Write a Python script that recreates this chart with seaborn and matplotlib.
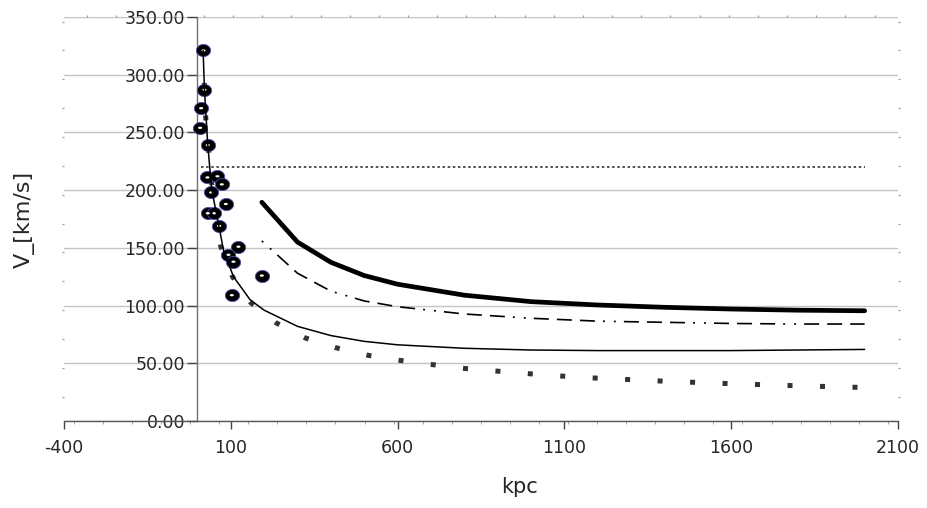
import numpy as np
import pandas as pd
import seaborn as sns
import matplotlib.pyplot as plt
from matplotlib.ticker import MultipleLocator, FormatStrFormatter

# observed points (kpc, km/s)
obs_r = [18, 21, 11, 8, 31, 30, 60, 73, 41, 85, 31, 51, 65, 123, 93, 108, 193, 103]
obs_v = [321, 287, 271, 254, 239, 211, 212, 205, 198, 188, 180, 180, 169, 151, 144, 138, 126, 109]

# thin solid fit
fit_r = [17, 21, 31, 43, 65, 78, 108, 158, 200, 300, 400, 500, 600, 800, 1000, 1200, 1400, 1600, 1800, 2000]
fit_v = [321, 287, 239, 200, 168, 148, 125, 105, 96, 82, 74, 69, 66, 63, 61.5, 61, 61, 61, 61.5, 62]

# square-dotted curve
kep_r = [17, 25, 50, 70, 105, 160, 236, 323, 415, 509, 605, 700, 798, 894, 992, 1088, 1185, 1400, 1600, 1800, 2000]
kep_v = [321, 262, 183, 151, 125, 102.5, 85, 72, 63.5, 57, 52.6, 49, 45.6, 43.3, 41, 39, 37.3, 34.5, 32.3, 30.5, 29]

# thick solid and dash-dot curves
far_r = [193, 300, 400, 500, 600, 800, 1000, 1200, 1400, 1600, 1800, 2000]
thick_v = [189.5, 155, 137.5, 126, 118.5, 109, 103.4, 100.5, 98.5, 97, 96, 95.5]
dashdot_v = [156, 128, 112.5, 104, 99, 92.7, 89, 86.5, 85.5, 84.5, 84, 84]

# flat dotted line
flat_r = [10, 2000]
flat_v = [220, 220]

xticks = [-400, 100, 600, 1100, 1600, 2100]
yticks = [0, 50, 100, 150, 200, 250, 300, 350]

sns.set_style("white")
plt.rcParams['font.family'] = ['DejaVu Sans']
plt.rcParams['axes.unicode_minus'] = False
plt.rcParams['lines.scale_dashes'] = False

fig = plt.figure(figsize=(9.27, 5.08), dpi=100)
rect = [64 / 927, 1 - 421 / 508, 834 / 927, 404 / 508]
ax = fig.add_axes(rect)

obs = pd.DataFrame({'r': obs_r, 'v': obs_v})

sns.lineplot(x=flat_r, y=flat_v, ax=ax, color='#222222', lw=1.1,
             linestyle=(0, (1.8, 1.9)), estimator=None, legend=False, zorder=2)
sns.lineplot(x=kep_r, y=kep_v, ax=ax, color='#333333', lw=3.6,
             linestyle=(0, (3.6, 19.8)), dash_capstyle='butt',
             estimator=None, legend=False, zorder=2)
sns.lineplot(x=far_r, y=thick_v, ax=ax, color='black', lw=3.4,
             estimator=None, legend=False, zorder=2)
sns.lineplot(x=far_r, y=dashdot_v, ax=ax, color='black', lw=1.2,
             linestyle=(0, (1.4, 6.5, 1.4, 5.8, 10.8, 5.8, 10.8, 5.8, 10.8, 5.8)),
             dash_capstyle='butt', estimator=None, legend=False, zorder=2)

# ball markers with a white highlight
t = np.linspace(0, 2 * np.pi, 40)
ball = np.column_stack([np.cos(t), 0.85 * np.sin(t)])
shine = np.column_stack([np.cos(t), 0.55 * np.sin(t)])
sns.scatterplot(data=obs, x='r', y='v', ax=ax, marker=ball, s=105,
                color='black', edgecolor='#4a4ab0', linewidth=0.6,
                legend=False, zorder=3)
sns.scatterplot(data=obs, x='r', y='v', ax=ax, marker=shine, s=9,
                color='white', edgecolor='none', legend=False, zorder=3.5)

sns.lineplot(x=fit_r, y=fit_v, ax=ax, color='black', lw=1.1,
             estimator=None, legend=False, zorder=4)

ax.set_xlim(-400, 2100)
ax.set_ylim(0, 350)
ax.set_xticks(xticks)
ax.set_yticks(yticks)
ax.yaxis.set_major_formatter(FormatStrFormatter('%.2f'))
ax.xaxis.set_minor_locator(MultipleLocator(87.14, offset=65.2))

ax.yaxis.grid(True, color='#c4c4c4', lw=1.0)
ax.set_axisbelow(True)
for s in ['top', 'right']:
    ax.spines[s].set_visible(False)
ax.spines['left'].set_position(('data', 0))
ax.spines['left'].set_color('#707070')
ax.spines['left'].set_linewidth(1.0)
ax.spines['bottom'].set_color('#555555')
ax.spines['bottom'].set_linewidth(1.0)

ax.tick_params(axis='x', which='major', direction='out', length=5.8, width=1.0,
               color='#444444', pad=7, labelsize=12.5, bottom=True)
ax.tick_params(axis='x', which='minor', direction='out', length=2.0, width=0.6,
               color='#999999', bottom=True)
ax.tick_params(axis='y', which='major', direction='out', length=7, width=1.0,
               color='#444444', pad=2, labelsize=12.5, left=True)

ax.set_ylabel('V_[km/s]', fontsize=16)
ax.yaxis.set_label_coords(-0.035, 0.5)
ax.set_xlabel('kpc', fontsize=15)
ax.xaxis.set_label_coords(0.546, -0.138)

# tiny frame ticks around the plot box
ov = fig.add_axes(rect, frameon=False)
ov.set_xlim(-400, 2100)
ov.set_ylim(0, 350)
ov.patch.set_visible(False)
ov.yaxis.set_major_locator(MultipleLocator(25, offset=21))
ov.xaxis.set_major_locator(MultipleLocator(87.4, offset=19.4))
ov.tick_params(left=True, right=True, top=True, bottom=False,
               labelleft=False, labelbottom=False, direction='out',
               length=1.2, width=0.9, color='#999999')

fig.savefig('out.png', dpi=100)
